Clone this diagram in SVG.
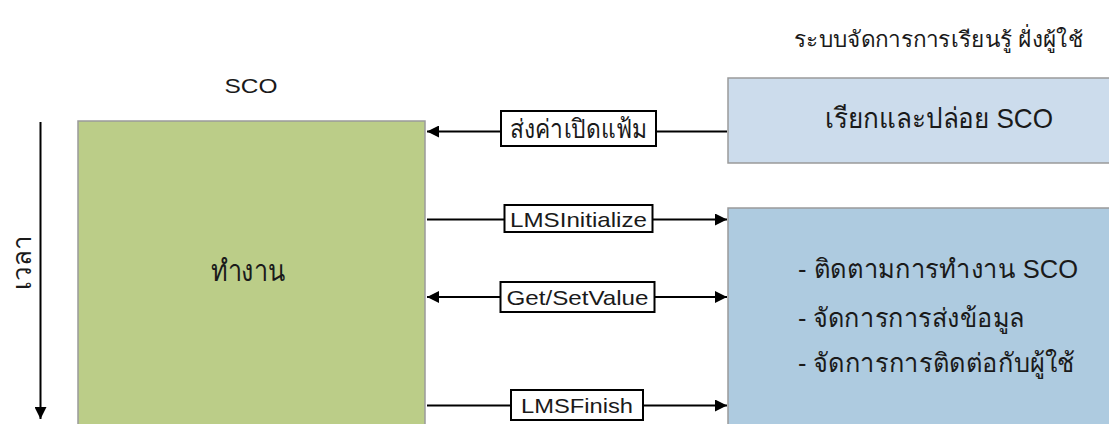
<svg xmlns="http://www.w3.org/2000/svg" width="1109" height="424" viewBox="0 0 1109 424">
<style>
text{font-family:"Liberation Sans","DejaVu Sans","Noto Sans",sans-serif;fill:#1a1a1a}
.box{stroke:#9a9a9a;stroke-width:1.5}
.line{stroke:#000;stroke-width:2;fill:none}
.lbl{fill:#fff;stroke:#000;stroke-width:2}
.lt{font-size:21px;text-anchor:middle}
</style>
<defs>
<marker id="ah" viewBox="0 0 10 10" refX="10" refY="5" markerWidth="6" markerHeight="6" markerUnits="strokeWidth" orient="auto-start-reverse">
<path d="M0,0 L10,5 L0,10 Z" fill="#000"/>
</marker>
</defs>
<rect width="1109" height="424" fill="#fff"/>
<g id="title">
<text x="1083" y="47" font-size="22" text-anchor="end" textLength="289" lengthAdjust="spacingAndGlyphs">ระบบจัดการการเรียนรู้ ฝั่งผู้ใช้</text>
</g>
<g id="sco-label">
<text x="251" y="93" font-size="21" text-anchor="middle" textLength="53" lengthAdjust="spacingAndGlyphs">SCO</text>
</g>
<g id="time">
<line class="line" x1="40.5" y1="122" x2="40.5" y2="419" marker-end="url(#ah)"/>
<text transform="translate(31,262) rotate(-90)" font-size="26" text-anchor="middle">เวลา</text>
</g>
<g id="sco">
<rect class="box" x="78" y="121" width="347" height="320" fill="#bbcd88"/>
<text x="248" y="281" font-size="29" text-anchor="middle" textLength="74" lengthAdjust="spacingAndGlyphs">ทำงาน</text>
</g>
<g id="launch">
<rect class="box" x="728" y="78" width="400" height="85" fill="#ccdcec"/>
<text x="939" y="128" font-size="28" text-anchor="middle" textLength="228" lengthAdjust="spacingAndGlyphs">เรียกและปล่อย SCO</text>
</g>
<g id="lms">
<rect class="box" x="728" y="208" width="400" height="240" fill="#aecbe0"/>
<text x="798" y="278" font-size="26" textLength="280" lengthAdjust="spacingAndGlyphs">- ติดตามการทำงาน SCO</text>
<text x="798" y="327" font-size="26" textLength="227" lengthAdjust="spacingAndGlyphs">- จัดการการส่งข้อมูล</text>
<text x="798" y="372" font-size="26" textLength="277" lengthAdjust="spacingAndGlyphs">- จัดการการติดต่อกับผู้ใช้</text>
</g>
<g id="connectors">
<line class="line" x1="727" y1="131.5" x2="427" y2="131.5" marker-end="url(#ah)"/>
<line class="line" x1="427" y1="219.5" x2="727" y2="219.5" marker-end="url(#ah)"/>
<line class="line" x1="427" y1="297" x2="727" y2="297" marker-start="url(#ah)" marker-end="url(#ah)"/>
<line class="line" x1="427" y1="405.5" x2="727" y2="405.5" marker-end="url(#ah)"/>
<g id="lbl1"><rect class="lbl" x="501" y="111" width="155" height="35"/><text class="lt" x="578.5" y="138" textLength="137" lengthAdjust="spacingAndGlyphs" style="font-size:26px">ส่งค่าเปิดแฟ้ม</text></g>
<g id="lbl2"><rect class="lbl" x="504.5" y="205" width="148" height="27"/><text class="lt" x="578.5" y="226.5" textLength="137" lengthAdjust="spacingAndGlyphs">LMSInitialize</text></g>
<g id="lbl3"><rect class="lbl" x="500.5" y="282" width="154" height="30"/><text class="lt" x="577.5" y="304.5" textLength="142" lengthAdjust="spacingAndGlyphs">Get/SetValue</text></g>
<g id="lbl4"><rect class="lbl" x="511" y="390" width="132" height="30"/><text class="lt" x="577" y="413" textLength="112" lengthAdjust="spacingAndGlyphs">LMSFinish</text></g>
</g>
</svg>
